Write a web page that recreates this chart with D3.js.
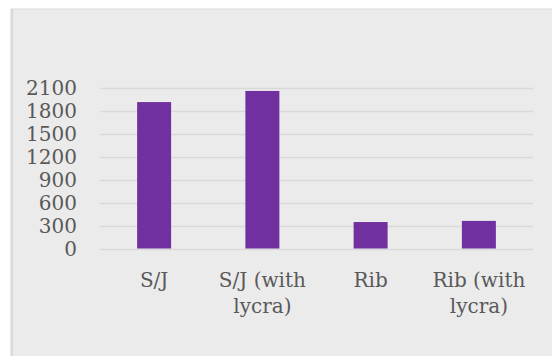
<!DOCTYPE html>
<html>
<head>
<meta charset="utf-8">
<script src="https://cdn.jsdelivr.net/npm/d3@7"></script>
<style>
  html, body { margin: 0; padding: 0; background: #ffffff; }
  svg { display: block; }
</style>
</head>
<body>
<script>
const categories = ["S/J", "S/J (with lycra)", "Rib", "Rib (with lycra)"];
const categoryLines = [["S/J"], ["S/J (with", "lycra)"], ["Rib"], ["Rib (with", "lycra)"]];
const values = [1910, 2055, 345, 360];
const yTicks = [0, 300, 600, 900, 1200, 1500, 1800, 2100];

const W = 552, H = 356;
const svg = d3.select("body").append("svg").attr("width", W).attr("height", H);

// panel
svg.append("rect").attr("x", 11).attr("y", 9).attr("width", W).attr("height", H)
  .attr("fill", "#ebebeb").attr("stroke", "#d9d9d9").attr("stroke-width", 1);
svg.append("rect").attr("x", 11).attr("y", 9).attr("width", 2).attr("height", H)
  .attr("fill", "#d9d9d9");

const plotLeft = 100, plotRight = 533, plotTop = 87.5, plotBottom = 248.5;

const x = d3.scaleBand().domain(categories).range([plotLeft, plotRight])
  .paddingInner(0.686).paddingOuter(0.343);
const y = d3.scaleLinear().domain([0, 2100]).range([plotBottom, plotTop]);

const font = "'DejaVu Serif', serif";
const textColor = "#595959";

// gridlines
svg.append("g").selectAll("line").data(yTicks).join("line")
  .attr("x1", plotLeft).attr("x2", plotRight)
  .attr("y1", d => Math.round(y(d)) + 0.5).attr("y2", d => Math.round(y(d)) + 0.5)
  .attr("stroke", "#d9d9d9").attr("stroke-width", 1.5);

// y axis labels
const yAxis = d3.axisLeft(y).tickValues(yTicks).tickFormat(d3.format("d")).tickSize(0).tickPadding(0);
const gy = svg.append("g").attr("transform", `translate(77,0)`).call(yAxis);
gy.select(".domain").remove();
gy.selectAll("text").attr("font-family", font).attr("font-size", 20)
  .attr("fill", textColor).attr("dy", "0.36em");

// bars
svg.append("g").selectAll("rect").data(values).join("rect")
  .attr("x", (d, i) => x(categories[i]))
  .attr("width", x.bandwidth())
  .attr("y", d => y(d))
  .attr("height", d => y(0) - y(d))
  .attr("fill", "#7030a0");

// category labels
const xAxis = d3.axisBottom(x).tickSize(0).tickFormat(() => "");
const gx = svg.append("g").attr("transform", `translate(0,${plotBottom})`).call(xAxis);
gx.select(".domain").remove();
gx.selectAll(".tick").each(function(d, i) {
  const t = d3.select(this).append("text")
    .attr("font-family", font).attr("font-size", 20).attr("fill", textColor)
    .attr("text-anchor", "middle");
  categoryLines[i].forEach((line, j) => {
    t.append("tspan").attr("x", 0).attr("y", 38.5 + j * 26).text(line);
  });
});
</script>
</body>
</html>
